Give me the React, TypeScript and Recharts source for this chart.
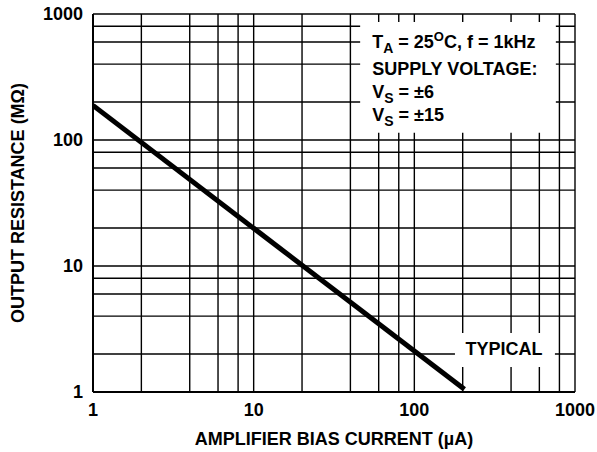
import React from "react";
import {
  LineChart,
  Line,
  XAxis,
  YAxis,
  CartesianGrid,
  ReferenceArea,
} from "recharts";

// log-log grid: 1, 2, 4, 6, 8 in every decade
const GRID_TICKS = [1, 2, 4, 6, 8, 10, 20, 40, 60, 80, 100, 200, 400, 600, 800, 1000];
const DECADES = [1, 10, 100, 1000];

// typical curve
const biasCurrent = [1, 205];
const outputResistance = [188, 1.05];

const data = biasCurrent.map((current, i) => ({
  current,
  resistance: outputResistance[i],
}));

const FONT = "'Liberation Sans', Arial, Helvetica, sans-serif";

const textStyle = {
  fontFamily: FONT,
  fontWeight: 700,
  fontSize: 18,
  fill: "#000",
};

const XTick = ({ x, y, payload }: any) => {
  if (!DECADES.includes(payload.value)) return <g />;
  return (
    <text x={x} y={y + 24} textAnchor="middle" {...textStyle}>
      {payload.value}
    </text>
  );
};

const YTick = ({ x, y, payload }: any) => {
  if (!DECADES.includes(payload.value)) return <g />;
  return (
    <text x={x - 10} y={y + 6} textAnchor="end" {...textStyle}>
      {payload.value}
    </text>
  );
};

const XTitle = ({ viewBox }: any) => (
  <text x={viewBox.x + viewBox.width / 2} y={viewBox.y + 53} textAnchor="middle" {...textStyle}>
    AMPLIFIER BIAS CURRENT (µA)
  </text>
);

const YTitle = ({ viewBox }: any) => {
  const cx = 18;
  const cy = viewBox.y + viewBox.height / 2;
  return (
    <text
      x={cx}
      y={cy}
      textAnchor="middle"
      dominantBaseline="central"
      transform={`rotate(-90, ${cx}, ${cy})`}
      {...textStyle}
    >
      OUTPUT RESISTANCE (MΩ)
    </text>
  );
};

const ConditionsText = ({ viewBox }: any) => {
  const x = viewBox.x + 12;
  const y = viewBox.y;
  return (
    <g>
      <text x={x} y={y + 26} {...textStyle}>
        T
        <tspan dy={5} fontSize={14}>A</tspan>
        <tspan dy={-5}> = 25</tspan>
        <tspan dy={-7} fontSize={13}>O</tspan>
        <tspan dy={7}>C, f = 1kHz</tspan>
      </text>
      <text x={x} y={y + 53} {...textStyle}>
        SUPPLY VOLTAGE:
      </text>
      <text x={x} y={y + 76} {...textStyle}>
        V<tspan dy={5} fontSize={14}>S</tspan>
        <tspan dy={-5}> = ±6</tspan>
      </text>
      <text x={x} y={y + 99} {...textStyle}>
        V<tspan dy={5} fontSize={14}>S</tspan>
        <tspan dy={-5}> = ±15</tspan>
      </text>
    </g>
  );
};

const TypicalText = ({ viewBox }: any) => (
  <text
    x={viewBox.x + viewBox.width / 2 - 1}
    y={viewBox.y + 22}
    textAnchor="middle"
    {...textStyle}
  >
    TYPICAL
  </text>
);

export default function App() {
  return (
    <div style={{ position: "absolute", left: 0, top: 0, background: "#fff" }}>
      <LineChart
        width={597}
        height={452}
        data={data}
        margin={{ top: 14, right: 22, bottom: 0, left: 0 }}
      >
        <CartesianGrid stroke="#000" strokeWidth={1.4} />
        <XAxis
          dataKey="current"
          type="number"
          scale="log"
          domain={[1, 1000]}
          ticks={GRID_TICKS}
          allowDataOverflow
          height={60}
          tickLine={false}
          tickSize={0}
          tickMargin={0}
          axisLine={{ stroke: "#000", strokeWidth: 2 }}
          tick={<XTick />}
          interval={0}
          label={{ content: <XTitle /> }}
        />
        <YAxis
          dataKey="resistance"
          type="number"
          scale="log"
          domain={[1, 1000]}
          ticks={GRID_TICKS}
          allowDataOverflow
          width={93}
          tickLine={false}
          tickSize={0}
          tickMargin={0}
          axisLine={{ stroke: "#000", strokeWidth: 2 }}
          tick={<YTick />}
          interval={0}
          label={{ content: <YTitle /> }}
        />
        <ReferenceArea
          x1={46}
          x2={760}
          y1={114}
          y2={864}
          fill="#fff"
          fillOpacity={1}
          stroke="none"
          label={{ content: <ConditionsText /> }}
        />
        <ReferenceArea
          x1={179}
          x2={750}
          y1={1.58}
          y2={2.94}
          fill="#fff"
          fillOpacity={1}
          stroke="none"
          label={{ content: <TypicalText /> }}
        />
        <Line
          dataKey="resistance"
          stroke="#000"
          strokeWidth={5}
          dot={false}
          isAnimationActive={false}
        />
      </LineChart>
    </div>
  );
}
